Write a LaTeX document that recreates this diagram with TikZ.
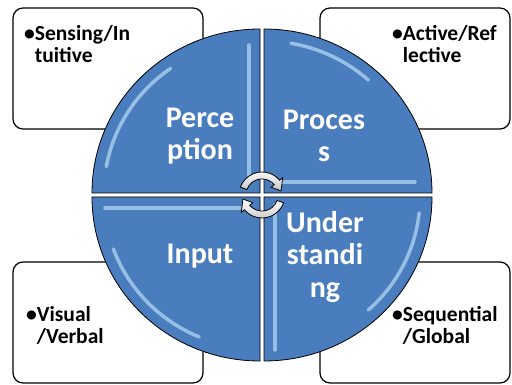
\documentclass[tikz,border=0pt]{standalone}
\usepackage{fontspec}
\setmainfont{Carlito}
\usetikzlibrary{calc}

\definecolor{quadblue}{RGB}{74,125,190}
\definecolor{glossblue}{RGB}{185,220,245}

\tikzset{
  sidebox/.style={draw=black, line width=1.2pt, fill=white, rounded corners=10pt},
  quad/.style={draw=black, line width=0.8pt, fill=quadblue},
  gloss/.style={draw=glossblue, line width=3.5pt, line cap=round, opacity=0.7},
  boxtext/.style={font=\bfseries\fontsize{21.5}{22.5}\selectfont, align=left, inner sep=0pt, anchor=north west},
  quadtext/.style={font=\bfseries\fontsize{30}{32.5}\selectfont, text=white, align=center, inner sep=0pt},
  cycarrow/.style={draw=black, line width=0.8pt, top color=white, bottom color=gray!45}
}

\begin{document}
\begin{tikzpicture}[x=1pt, y=1pt]
\useasboundingbox (0,0) rectangle (512,385);
\coordinate (c) at (262,190);
\foreach \x/\y in {13/256, 320/256, 13/2, 320/2} {
    \draw[sidebox] (\x,\y) rectangle (\x+190,\y+121);
}
\foreach \dx/\dy/\a in {2/2/0, -2/2/90, -2/-2/180, 2/-2/270} {
    \draw[quad] ($(c)+(\dx,\dy)$) -- ++(\a:168 and 164)
        arc[start angle=\a, delta angle=90, x radius=168, y radius=164] -- cycle;
}
\foreach \dx/\dy/\s/\e in {-2/2/125/170, 2/2/48/80, -2/-2/200/247, 2/-2/-48/-6} {
    \draw[gloss] ($(c)+(\dx,\dy)+(\s:156 and 152)$)
        arc[start angle=\s, end angle=\e, x radius=156, y radius=152];
}
\draw[gloss] (249,205) -- (249,340);
\draw[gloss] (272,203) -- (415,203);
\draw[gloss] (105,177) -- (240,177);
\draw[gloss] (275,35) -- (275,180);

\node[quadtext] (perception) at (200,249) {Perce\\ption};
\node[quadtext] (process) at (324,249) {Proces\\s};
\node[quadtext] (input) at (200,129) {Input};
\node[quadtext] (understanding) at (325,128) {Under\\standi\\ng};

\node[boxtext] (sensing) at (24,360) {\textbullet Sensing/In\\\hphantom{\textbullet}tuitive};
\node[boxtext] (active) at (392,360) {\textbullet Active/Ref\\\hphantom{\textbullet}lective};
\node[boxtext] (visual) at (26,79) {\textbullet Visual\\\hphantom{\textbullet}/Verbal};
\node[boxtext] (sequential) at (392,79) {\textbullet Sequential\\\hphantom{\textbullet}/Global};

\foreach \a in {0,180} {
    \path[cycarrow] ([shift={(c)}]160+\a:23)
        arc[start angle=160+\a, end angle=40+\a, radius=23]
        -- ([shift={(c)}]40+\a:27) -- ([shift={(c)}]12+\a:19.5)
        -- ([shift={(c)}]40+\a:12) -- ([shift={(c)}]40+\a:16)
        arc[start angle=40+\a, end angle=160+\a, radius=16] -- cycle;
}
\end{tikzpicture}
\end{document}
